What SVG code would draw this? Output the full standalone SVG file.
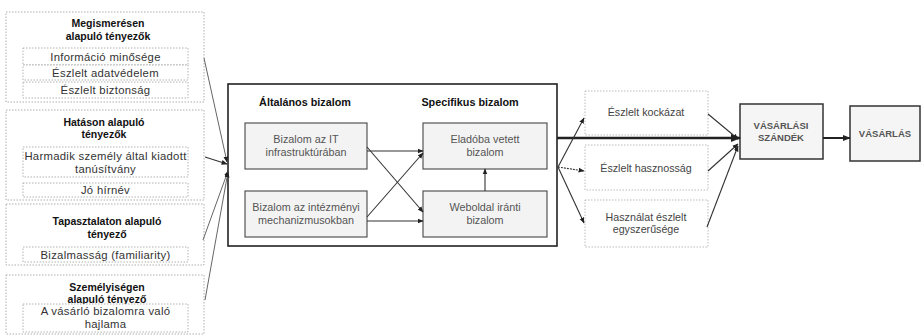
<svg xmlns="http://www.w3.org/2000/svg" width="922" height="335" viewBox="0 0 922 335">
<defs>
<style>
.outer{fill:#fff;stroke:#9a9a9a;stroke-width:0.8;stroke-dasharray:1.5 1.5}
.inner{fill:#fff;stroke:#a0a0a0;stroke-width:0.8;stroke-dasharray:1.5 1.5}
.title{font-family:"Liberation Sans",Arial,sans-serif;font-size:10.5px;font-weight:bold;fill:#111;text-anchor:middle}
.txt{font-family:"Liberation Sans",Arial,sans-serif;font-size:11.3px;letter-spacing:0.3px;fill:#333;text-anchor:middle}
.hdr{font-family:"Liberation Sans",Arial,sans-serif;font-size:10.8px;font-weight:bold;fill:#111;text-anchor:middle}
.ib{fill:#f3f3f3;stroke:#555;stroke-width:1.2}
.itxt{font-family:"Liberation Sans",Arial,sans-serif;font-size:10.8px;fill:#555;text-anchor:middle}
.mtxt{font-family:"Liberation Sans",Arial,sans-serif;font-size:10.7px;fill:#444;text-anchor:middle}
.mid{fill:#fff;stroke:#aaa;stroke-width:0.8;stroke-dasharray:1.5 1.5}
.big{fill:#f5f5f5;stroke:#333;stroke-width:1.5}
.btxt{font-family:"Liberation Sans",Arial,sans-serif;font-size:9.5px;font-weight:bold;fill:#555;text-anchor:middle}
.c{fill:none;stroke:#333;stroke-width:1.1}
.cg{fill:none;stroke:#666;stroke-width:1}
</style>
<marker id="ah" viewBox="0 0 10 10" refX="9" refY="5" markerWidth="6" markerHeight="6" orient="auto" markerUnits="userSpaceOnUse">
<path d="M0,1 L10,5 L0,9 z" fill="#222"/>
</marker>
<marker id="ahs" viewBox="0 0 10 10" refX="9" refY="5" markerWidth="4" markerHeight="4" orient="auto">
<path d="M0,1 L10,5 L0,9 z" fill="#222"/>
</marker>
</defs>
<rect width="922" height="335" fill="#fff"/>

<g id="megismeresen">
<rect class="outer" x="6" y="12" width="198" height="90"/>
<text class="title" x="108" y="27">Megismerésen</text>
<text class="title" x="108" y="40">alapuló tényezők</text>
<rect class="inner" x="23" y="48" width="165" height="17"/>
<text class="txt" x="105.5" y="60.5">Információ minősége</text>
<rect class="inner" x="23" y="65" width="165" height="15"/>
<text class="txt" x="105.5" y="76.5">Észlelt adatvédelem</text>
<rect class="inner" x="23" y="82" width="165" height="16"/>
<text class="txt" x="105.5" y="94">Észlelt biztonság</text>
</g>

<g id="hatason">
<rect class="outer" x="6" y="110" width="198" height="90"/>
<text class="title" x="104" y="126">Hatáson alapuló</text>
<text class="title" x="104" y="138">tényezők</text>
<rect class="inner" x="23" y="147" width="165" height="30"/>
<text class="txt" x="105.5" y="160">Harmadik személy által kiadott</text>
<text class="txt" x="105.5" y="172.5">tanúsítvány</text>
<rect class="inner" x="23" y="183" width="165" height="14"/>
<text class="txt" x="105.5" y="194">Jó hírnév</text>
</g>

<g id="tapasztalaton">
<rect class="outer" x="6" y="204" width="198" height="61"/>
<text class="title" x="107" y="225">Tapasztalaton alapuló</text>
<text class="title" x="107" y="238">tényező</text>
<rect class="inner" x="23" y="247" width="165" height="15"/>
<text class="txt" x="105.5" y="258.5">Bizalmasság (familiarity)</text>
</g>

<g id="szemelyisegen">
<rect class="outer" x="6" y="275" width="198" height="59"/>
<text class="title" x="107" y="291">Személyiségen</text>
<text class="title" x="107" y="303">alapuló tényező</text>
<rect class="inner" x="23" y="304" width="165" height="28"/>
<text class="txt" x="105.5" y="315">A vásárló bizalomra való</text>
<text class="txt" x="105.5" y="327.5">hajlama</text>
</g>

<g id="bizalom">
<rect x="228" y="84" width="329" height="162" fill="#fff" stroke="#222" stroke-width="1.6"/>
<text class="hdr" x="305" y="106">Általános bizalom</text>
<text class="hdr" x="470" y="106">Specifikus bizalom</text>
</g>

<g id="it">
<rect class="ib" x="245" y="123" width="122" height="46"/>
<text class="itxt" x="306" y="143">Bizalom az IT</text>
<text class="itxt" x="306" y="155.5">infrastruktúrában</text>
</g>
<g id="intezmenyi">
<rect class="ib" x="245" y="191" width="122" height="46"/>
<text class="itxt" x="306" y="211">Bizalom az intézményi</text>
<text class="itxt" x="306" y="223.5">mechanizmusokban</text>
</g>
<g id="eladoba">
<rect class="ib" x="423" y="123" width="124" height="46"/>
<text class="itxt" x="485" y="143">Eladóba vetett</text>
<text class="itxt" x="485" y="155.5">bizalom</text>
</g>
<g id="weboldal">
<rect class="ib" x="423" y="191" width="124" height="46"/>
<text class="itxt" x="485" y="211">Weboldal iránti</text>
<text class="itxt" x="485" y="223.5">bizalom</text>
</g>

<g id="kockazat">
<rect class="mid" x="585" y="91" width="123" height="44"/>
<text class="mtxt" x="646" y="116">Észlelt kockázat</text>
</g>
<g id="hasznossag">
<rect class="mid" x="585" y="145" width="123" height="45"/>
<text class="mtxt" x="646" y="171.5">Észlelt hasznosság</text>
</g>
<g id="egyszeruseg">
<rect class="mid" x="585" y="200" width="123" height="47"/>
<text class="mtxt" x="646" y="220.5">Használat észlelt</text>
<text class="mtxt" x="646" y="232.5">egyszerűsége</text>
</g>

<g id="szandek">
<rect class="big" x="740" y="104" width="83" height="55"/>
<text class="btxt" x="781" y="129">VÁSÁRLÁSI</text>
<text class="btxt" x="781" y="141">SZÁNDÉK</text>
</g>
<g id="vasarlas">
<rect class="big" x="850" y="106" width="70" height="55"/>
<text class="btxt" x="885" y="137">VÁSÁRLÁS</text>
</g>

<g id="connectors">
<line class="cg" x1="204" y1="58" x2="227" y2="162" marker-end="url(#ah)"/>
<line class="c" x1="205" y1="157" x2="227" y2="164" marker-end="url(#ah)"/>
<line class="cg" x1="203" y1="240" x2="228" y2="171" marker-end="url(#ah)"/>
<line class="cg" x1="205" y1="300" x2="228" y2="172" marker-end="url(#ah)"/>
<line class="c" x1="367" y1="151" x2="423" y2="151" marker-end="url(#ah)"/>
<line class="c" x1="367" y1="221" x2="423" y2="221" marker-end="url(#ah)"/>
<line class="c" x1="367" y1="147" x2="423" y2="212" marker-end="url(#ah)"/>
<line class="c" x1="367" y1="217" x2="423" y2="153" marker-end="url(#ah)"/>
<line class="c" x1="485" y1="191" x2="485" y2="169" marker-end="url(#ah)"/>
<line x1="557" y1="138" x2="740" y2="138" stroke="#222" stroke-width="2.6" marker-end="url(#ahs)"/>
<line class="c" x1="558" y1="167" x2="584" y2="118" marker-end="url(#ah)"/>
<line class="c" x1="558" y1="167" x2="584" y2="171" stroke-dasharray="2 1" marker-end="url(#ah)"/>
<line class="c" x1="558" y1="167" x2="584" y2="223" marker-end="url(#ah)"/>
<line class="c" x1="708" y1="114" x2="738" y2="139" marker-end="url(#ah)"/>
<line class="c" x1="708" y1="171" x2="738" y2="144" marker-end="url(#ah)"/>
<line class="c" x1="707" y1="227" x2="738" y2="146" marker-end="url(#ah)"/>
<line x1="823" y1="138" x2="850" y2="138" stroke="#222" stroke-width="2" marker-end="url(#ahs)"/>
</g>
</svg>
